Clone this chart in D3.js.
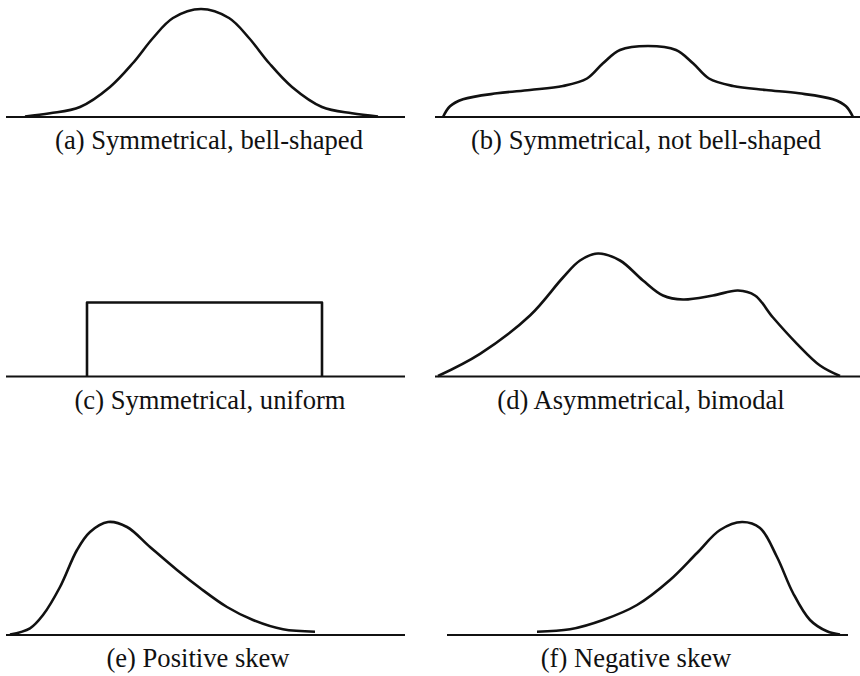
<!DOCTYPE html>
<html lang="en">
<head>
  <meta charset="UTF-8" />
  <title>Distribution Shapes</title>
  <script src="https://d3js.org/d3.v7.min.js"></script>
  <style>
    body { margin: 0; background: #fff; }
    .base { stroke: #111; stroke-width: 2.2; }
    .curve { fill: none; stroke: #111; stroke-width: 2.6; stroke-linejoin: round; }
    .caption { font-family: "Liberation Serif", "Times New Roman", serif; font-size: 26.6px; fill: #111; }
  </style>
</head>
<body>
  <svg id="chart" width="860" height="676"></svg>
  <script>
    // captions, one per panel
    const captions = [
      "(a) Symmetrical, bell-shaped",
      "(b) Symmetrical, not bell-shaped",
      "(c) Symmetrical, uniform",
      "(d) Asymmetrical, bimodal",
      "(e) Positive skew",
      "(f) Negative skew"
    ];

    // curve points [x, height] (x in panel units, height above baseline)
    const bellPts = [[25, 0.5], [50, 3.7], [80, 10], [110, 30], [133, 54], [153, 79], [173, 99], [201, 108],
      [229, 99], [249, 79], [269, 54], [292, 30], [322, 10], [352, 3.7], [378, 0.5]];
    const flatPts = [[13, 0], [20, 10.7], [33, 17.7], [67, 23.7], [100, 27], [133, 31], [157, 38.5], [173, 53.7],
      [190, 67], [218, 71], [246, 67], [263, 53.7], [279, 38.5], [303, 31], [336, 27], [369, 23.7], [403, 17.7], [416, 10.7], [423, 0]];
    const uniformRange = [87, 322];
    const uniformHeight = 74;
    const bimodalPts = [[8, 0.5], [50, 22.7], [100, 61], [133, 99], [150, 116], [168, 123], [190, 116], [213, 96],
      [233, 81], [253, 77], [283, 81], [308, 86], [325, 81], [343, 59], [367, 32.7], [390, 11], [410, 0.5]];
    const posSkewPts = [[10, 0.5], [30, 6.7], [43, 20], [60, 48], [77, 85], [90, 103], [108, 113], [127, 108],
      [150, 88], [177, 65], [200, 47], [227, 28], [253, 15], [283, 5.7], [315, 3.3]];
    const negSkewPts = [[107, 3.3], [140, 5.7], [173, 15], [207, 30], [240, 55], [267, 82], [290, 105], [312, 113],
      [330, 107], [347, 78], [363, 42], [380, 15], [397, 3.7], [410, 0.5]];

    // baseline extents per panel (panel units)
    const baseExtents = [[6, 405], [5, 430], [6, 405], [5, 430], [6, 405], [17, 418]];

    const svg = d3.select("#chart");
    const colLeft = [0, 430];
    const rowBase = [117, 376.5, 635];
    const captionX = [209, 646, 210, 641, 198, 636];
    const captionDy = 32;

    const panels = [
      { pts: bellPts }, { pts: flatPts }, { rect: true },
      { pts: bimodalPts }, { pts: posSkewPts }, { pts: negSkewPts }
    ];

    const line = d3.line().curve(d3.curveCatmullRom.alpha(0.5));

    panels.forEach((p, i) => {
      const col = i % 2, row = Math.floor(i / 2);
      const x = d3.scaleLinear().domain([0, 430]).range([colLeft[col], colLeft[col] + 430]);
      const y = d3.scaleLinear().domain([0, 120]).range([rowBase[row], rowBase[row] - 120]);
      const g = svg.append("g");

      g.append("line")
        .attr("class", "base")
        .attr("x1", x(baseExtents[i][0]))
        .attr("x2", x(baseExtents[i][1]))
        .attr("y1", y(0))
        .attr("y2", y(0));

      if (p.rect) {
        g.append("path")
          .attr("class", "curve")
          .attr("stroke-width", 2.2)
          .attr("d", d3.line()([
            [x(uniformRange[0]), y(0)], [x(uniformRange[0]), y(uniformHeight)],
            [x(uniformRange[1]), y(uniformHeight)], [x(uniformRange[1]), y(0)]
          ]));
      } else {
        g.append("path")
          .attr("class", "curve")
          .attr("d", line(p.pts.map(d => [x(d[0]), y(d[1])])));
      }

      g.append("text")
        .attr("class", "caption")
        .attr("x", captionX[i])
        .attr("y", rowBase[row] + captionDy)
        .attr("text-anchor", "middle")
        .text(captions[i]);
    });
  </script>
</body>
</html>
